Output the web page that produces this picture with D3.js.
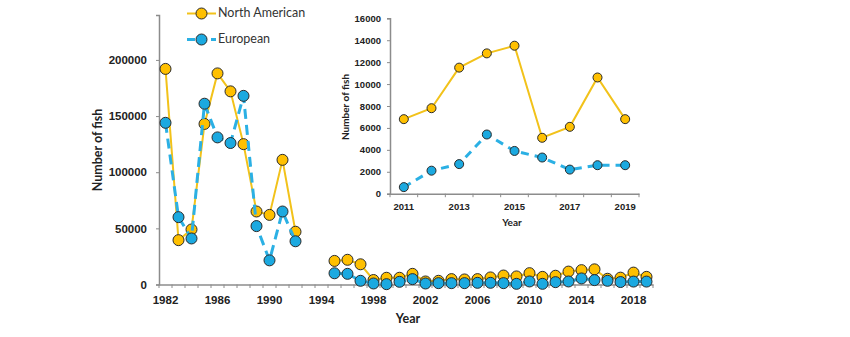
<!DOCTYPE html>
<html>
<head>
<meta charset="utf-8">
<script src="https://cdn.jsdelivr.net/npm/d3@7"></script>
<style>
  body { margin: 0; background: #fff; }
  svg { display: block; font-family: Lato, "Liberation Sans", sans-serif; }
</style>
</head>
<body>
<svg id="chart" width="850" height="337"></svg>
<script>
// yearly counts, 1993 and 1994 not sampled
const years = [1982, 1983, 1984, 1985, 1986, 1987, 1988, 1989, 1990, 1991, 1992, 1993, 1994,
  1995, 1996, 1997, 1998, 1999, 2000, 2001, 2002, 2003, 2004, 2005, 2006, 2007, 2008,
  2009, 2010, 2011, 2012, 2013, 2014, 2015, 2016, 2017, 2018, 2019];
const northAmerican = [192000, 39500, 49000, 143000, 188000, 172000, 125000, 65000, 62000, 111000, 47000, null, null,
  21000, 22000, 18000, 4000, 6000, 6000, 9500, 2700, 3300, 4800, 4500, 4800, 6300, 8000,
  7200, 10100, 6800, 7800, 11500, 12800, 13500, 5100, 6100, 10600, 6800];
const european = [144000, 60000, 41000, 161000, 131000, 126000, 168000, 52000, 21500, 65000, 38500, null, null,
  10000, 9500, 3300, 900, 300, 2400, 4800, 900, 1200, 1200, 1200, 1500, 1500, 1200,
  600, 2700, 600, 2100, 2700, 5400, 3900, 3300, 2200, 2600, 2600];
const mainYTicks = [0, 50000, 100000, 150000, 200000];
const mainXLabels = [1982, 1986, 1990, 1994, 1998, 2002, 2006, 2010, 2014, 2018];

// inset: recent years only
const insetYears = [2011, 2012, 2013, 2014, 2015, 2016, 2017, 2018, 2019];
const insetNA = [6800, 7800, 11500, 12800, 13500, 5100, 6100, 10600, 6800];
const insetEU = [600, 2100, 2700, 5400, 3900, 3300, 2200, 2600, 2600];
const insetYTicks = [0, 2000, 4000, 6000, 8000, 10000, 12000, 14000, 16000];
const insetXLabels = [2011, 2013, 2015, 2017, 2019];

const gold = "#FFC000", goldLine = "#F2C21A";
const blue = "#1BA9E0", blueLine = "#2BB0E4";
const axisGrey = "#8c8c8c";

const svg = d3.select("#chart");

function drawPanel(cfg) {
  const g = svg.append("g");
  const x = d3.scaleBand().domain(cfg.years).range(cfg.xRange).padding(0);
  const y = d3.scaleLinear().domain(cfg.yDomain).range(cfg.yRange);
  const cx = d => x(d.year) + x.bandwidth() / 2;

  // y axis
  const yAxis = g.append("g")
    .attr("transform", `translate(${cfg.xRange[0]},0)`)
    .call(d3.axisLeft(y).tickValues(cfg.yTicks).tickSize(3).tickPadding(cfg.yPad).tickFormat(d3.format("d")));
  yAxis.select(".domain").attr("stroke", axisGrey).attr("stroke-width", 1.5);
  yAxis.selectAll(".tick line").attr("stroke", axisGrey);
  yAxis.selectAll("text").attr("font-size", cfg.tickFont).attr("font-weight", "bold").attr("fill", "#222");

  // x axis: labels at category centres, tick marks on category edges
  const xAxis = g.append("g")
    .attr("transform", `translate(0,${cfg.yRange[0]})`)
    .call(d3.axisBottom(x).tickValues(cfg.xLabels).tickSize(0).tickPadding(cfg.xPad));
  xAxis.select(".domain").attr("stroke", axisGrey).attr("stroke-width", 1.5);
  xAxis.selectAll("text").attr("font-size", cfg.tickFont).attr("font-weight", "bold").attr("fill", "#222");

  g.append("g").selectAll("line")
    .data(cfg.years.concat(["end"]))
    .join("line")
    .attr("x1", d => d === "end" ? cfg.xRange[1] : x(d))
    .attr("x2", d => d === "end" ? cfg.xRange[1] : x(d))
    .attr("y1", cfg.yRange[0])
    .attr("y2", cfg.yRange[0] + 3.5)
    .attr("stroke", axisGrey);

  const series = [
    { values: cfg.na, line: goldLine, fill: gold, width: 2, dash: null },
    { values: cfg.eu, line: blueLine, fill: blue, width: 3, dash: cfg.dash }
  ];

  series.forEach(s => {
    const pts = cfg.years.map((yr, i) => ({ year: yr, v: s.values[i] }));
    const line = d3.line()
      .defined(d => d.v !== null)
      .x(cx)
      .y(d => y(d.v));
    g.append("path")
      .datum(pts)
      .attr("d", line)
      .attr("fill", "none")
      .attr("stroke", s.line)
      .attr("stroke-width", s.width)
      .attr("stroke-dasharray", s.dash);
    g.append("g").selectAll("circle")
      .data(pts.filter(d => d.v !== null))
      .join("circle")
      .attr("cx", cx)
      .attr("cy", d => y(d.v))
      .attr("r", cfg.r)
      .attr("fill", s.fill)
      .attr("stroke", "#2a2a2a")
      .attr("stroke-width", 1);
  });

  // axis titles
  g.append("text")
    .attr("transform", `translate(${cfg.yTitle[0]},${cfg.yTitle[1]}) rotate(-90)`)
    .attr("text-anchor", "middle")
    .attr("dominant-baseline", "middle")
    .attr("font-size", cfg.titleFont)
    .attr("font-weight", "bold")
    .attr("fill", "#222")
    .text("Number of fish");
  g.append("text")
    .attr("x", cfg.xTitle[0])
    .attr("y", cfg.xTitle[1])
    .attr("text-anchor", "middle")
    .attr("dominant-baseline", "middle")
    .attr("font-size", cfg.titleFont)
    .attr("font-weight", "bold")
    .attr("fill", "#222")
    .text("Year");
}

drawPanel({
  years: years, na: northAmerican, eu: european,
  xRange: [159, 653], yRange: [284.5, 15], yDomain: [0, 240000],
  yTicks: mainYTicks, xLabels: mainXLabels,
  tickFont: "11.5px", titleFont: "12.5px", yPad: 9, xPad: 11,
  r: 5.5, dash: "10,6",
  yTitle: [99, 150], xTitle: [408, 320]
});

drawPanel({
  years: insetYears, na: insetNA, eu: insetEU,
  xRange: [390, 639], yRange: [193.7, 18.3], yDomain: [0, 16000],
  yTicks: insetYTicks, xLabels: insetXLabels,
  tickFont: "9.5px", titleFont: "10px", yPad: 6, xPad: 10,
  r: 4.5, dash: "8,6",
  yTitle: [346, 107], xTitle: [512, 223]
});

// legend
const legendItems = [
  { label: "North American", line: goldLine, fill: gold, width: 2, dash: null, y: 13.5 },
  { label: "European", line: blueLine, fill: blue, width: 3, dash: "8,4", y: 39.5 }
];
const lg = svg.append("g").selectAll("g").data(legendItems).join("g")
  .attr("transform", d => `translate(0,${d.y})`);
lg.append("line")
  .attr("x1", 187).attr("x2", 216)
  .attr("stroke", d => d.line)
  .attr("stroke-width", d => d.width)
  .attr("stroke-dasharray", d => d.dash);
lg.append("circle")
  .attr("cx", 201.5).attr("r", 5.5)
  .attr("fill", d => d.fill)
  .attr("stroke", "#2a2a2a");
lg.append("text")
  .attr("x", 218)
  .attr("dominant-baseline", "middle")
  .attr("font-size", "12.5px")
  .attr("fill", "#333")
  .text(d => d.label);
</script>
</body>
</html>
